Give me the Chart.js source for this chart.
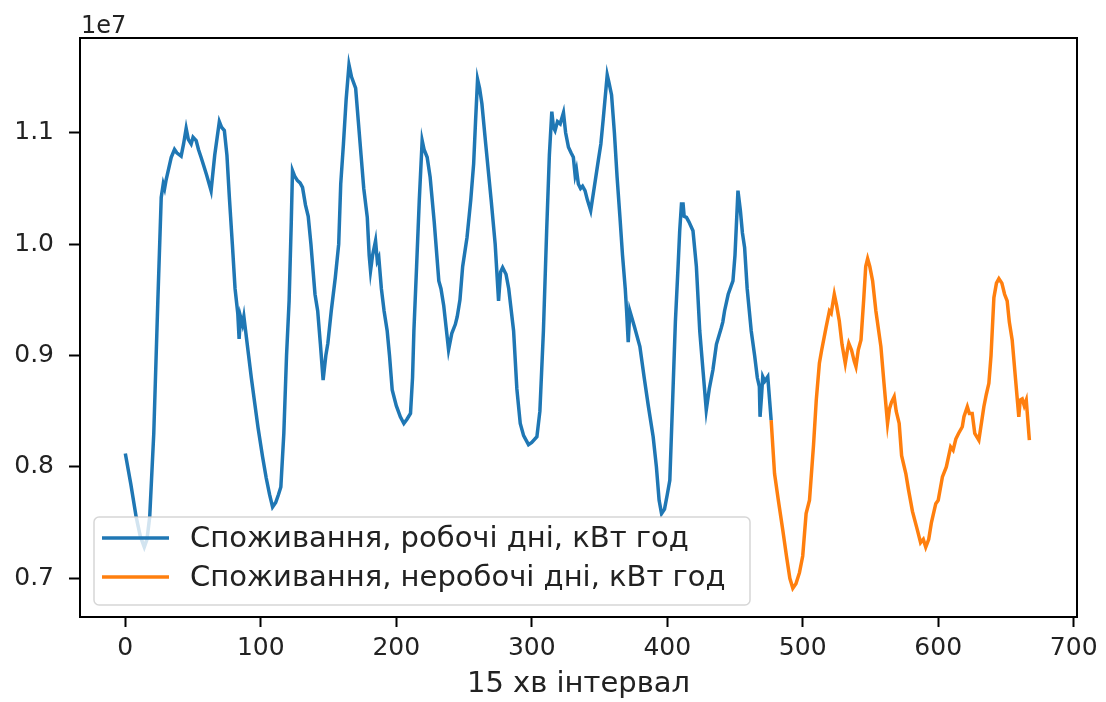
<!DOCTYPE html>
<html>
<head>
<meta charset="utf-8">
<script src="https://cdn.jsdelivr.net/npm/chart.js@4.4.0/dist/chart.umd.min.js"></script>
<style>
  body { margin: 0; background: #fff; }
  canvas { display: block; }
</style>
</head>
<body>
<canvas id="chart" width="1106" height="702"></canvas>
<script>
// values, in units of 1e7 kWh; x = index of 15 min interval
const workX = [0, 4, 8, 11, 14, 16, 18, 21, 24, 26.5, 28, 29, 30, 33.9, 36.3, 38, 41.2, 43, 44.9, 46.5,
  48.6, 50, 52.3, 54, 55.9, 58, 60, 63.3, 66, 69.4, 71, 73.1, 75, 76.8, 79, 81, 83, 84, 85, 86.5,
  87.5, 89, 91, 93, 95.2, 98, 101.3, 104, 106.5, 108.7, 111, 113, 114.8, 117, 119, 120.9, 122.5, 123.4, 125, 127.1,
  129, 130.8, 133, 135, 137, 140, 142, 144, 146, 148, 149.5, 152, 155, 157.5, 159, 161, 163, 165.1, 167, 170,
  172, 174, 176, 178.6, 180, 181, 182.5, 184.7, 186, 187.1, 189, 191, 193.3, 195, 197, 200, 203, 205.6, 208, 210.5,
  212, 213, 215, 217, 219.1, 220.5, 222.8, 225, 228, 231.4, 233, 235, 238.6, 241, 243.6, 245, 247, 249, 252.2, 255,
  257.1, 258.5, 260, 261.5, 263.2, 266, 270, 273, 275.5, 277, 278.5, 281, 283, 286.6, 289, 291.5, 294, 297.6, 300, 303.8,
  306, 308.6, 311, 313, 314.8, 316, 317.2, 319, 321, 323.4, 325, 327.1, 329, 330.7, 332, 333, 334.4, 336, 337.5, 339.3,
  341, 343.5, 346, 349.1, 351, 352.8, 355.7, 357, 358.9, 361, 363, 365.1, 367, 369, 370, 371.2, 372.4, 373.6, 376, 379.8,
  383, 386, 389.6, 392, 394, 395.8, 398, 400, 401.9, 404, 406, 408, 409.2, 410.5, 411.7, 412.5, 414.2, 416, 419, 421.5,
  424, 426.5, 428.8, 431, 433.7, 436.3, 439.9, 441, 442.3, 445, 448.5, 450, 452.2, 454, 455.5, 457.1, 459, 462, 464.5, 466.5,
  468, 468.5, 469.5, 470.5, 472, 474.2, 476.7];
const workY = [0.812, 0.785, 0.755, 0.738, 0.728, 0.735, 0.755, 0.83, 0.949, 1.042, 1.054, 1.050, 1.057, 1.078, 1.085, 1.082, 1.079, 1.090, 1.104, 1.094,
  1.090, 1.096, 1.093, 1.085, 1.078, 1.070, 1.062, 1.048, 1.080, 1.110, 1.105, 1.102, 1.080, 1.042, 1.00, 0.96, 0.938, 0.915, 0.935, 0.928,
  0.935, 0.92, 0.90, 0.88, 0.860, 0.835, 0.809, 0.79, 0.775, 0.764, 0.768, 0.775, 0.782, 0.83, 0.90, 0.949, 1.02, 1.066, 1.061, 1.057,
  1.055, 1.051, 1.035, 1.025, 1.00, 0.955, 0.94, 0.91, 0.878, 0.90, 0.911, 0.94, 0.97, 1.00, 1.054, 1.09, 1.13, 1.161, 1.15, 1.140,
  1.11, 1.08, 1.05, 1.024, 0.99, 0.976, 0.99, 1.003, 0.985, 0.988, 0.96, 0.94, 0.922, 0.90, 0.869, 0.855, 0.845, 0.839, 0.843, 0.848,
  0.88, 0.922, 0.98, 1.04, 1.093, 1.085, 1.078, 1.06, 1.02, 0.967, 0.96, 0.945, 0.905, 0.92, 0.928, 0.935, 0.95, 0.98, 1.006, 1.04,
  1.072, 1.11, 1.148, 1.14, 1.126, 1.09, 1.04, 1.00, 0.949, 0.975, 0.979, 0.973, 0.96, 0.922, 0.87, 0.839, 0.828, 0.820, 0.822, 0.827,
  0.85, 0.922, 1.012, 1.08, 1.119, 1.105, 1.102, 1.110, 1.108, 1.118, 1.10, 1.087, 1.082, 1.078, 1.062, 1.067, 1.054, 1.050, 1.052, 1.048,
  1.040, 1.030, 1.05, 1.075, 1.09, 1.113, 1.152, 1.145, 1.134, 1.10, 1.06, 1.024, 0.99, 0.96, 0.94, 0.912, 0.940, 0.935, 0.925, 0.908,
  0.88, 0.855, 0.827, 0.80, 0.77, 0.758, 0.762, 0.775, 0.788, 0.86, 0.93, 0.98, 1.012, 1.036, 1.036, 1.025, 1.024, 1.02, 1.012, 0.98,
  0.922, 0.885, 0.851, 0.87, 0.887, 0.91, 0.925, 0.93, 0.940, 0.955, 0.967, 0.99, 1.048, 1.03, 1.01, 0.997, 0.96, 0.922, 0.90, 0.88,
  0.872, 0.845, 0.862, 0.881, 0.877, 0.881, 0.842];

const offX = [476.7, 479.2, 482, 485.3, 488, 490.5, 492.7, 495, 497.6, 500, 502.5, 505, 508, 510, 512.3, 514, 517.2, 519.7, 521, 523.3,
  525, 527, 529, 531.4, 533, 534, 536, 538, 539.3, 541, 543, 545, 546.5, 547.9, 549.5, 551.6, 554, 557.7, 560, 562.6,
  564, 565.5, 567.5, 569, 571.2, 573, 576.1, 578, 581, 584.7, 587, 589, 590.8, 593, 595, 598.2, 600, 603.1, 606, 609.2,
  611, 613, 615, 617.8, 619, 621.5, 623, 625.1, 627, 630, 632, 633.7, 635.5, 637.4, 639, 641.1, 643, 644.8, 647, 649,
  650.9, 652.5, 654.6, 657, 659.5, 660.5, 662, 663.5, 665, 667.3];
const offY = [0.842, 0.794, 0.77, 0.743, 0.72, 0.70, 0.691, 0.695, 0.705, 0.72, 0.758, 0.77, 0.82, 0.86, 0.893, 0.905, 0.925, 0.940, 0.938, 0.955,
  0.945, 0.931, 0.91, 0.893, 0.905, 0.911, 0.905, 0.895, 0.890, 0.905, 0.914, 0.95, 0.98, 0.987, 0.98, 0.967, 0.94, 0.908, 0.875, 0.839,
  0.852, 0.858, 0.863, 0.85, 0.839, 0.81, 0.794, 0.78, 0.76, 0.743, 0.732, 0.735, 0.728, 0.735, 0.75, 0.767, 0.77, 0.791, 0.80, 0.818,
  0.815, 0.825, 0.83, 0.836, 0.845, 0.854, 0.848, 0.848, 0.83, 0.824, 0.84, 0.854, 0.865, 0.875, 0.90, 0.952, 0.965, 0.969, 0.965, 0.955,
  0.949, 0.93, 0.914, 0.88, 0.845, 0.86, 0.861, 0.855, 0.86, 0.824];

const xTicks = [0, 100, 200, 300, 400, 500, 600, 700];
const yTicks = [0.7, 0.8, 0.9, 1.0, 1.1];
const labels = ['Споживання, робочі дні, кВт год', 'Споживання, неробочі дні, кВт год'];
const colors = ['#1f77b4', '#ff7f0e'];
const SCALE = 1e7;

const FONT = 'DejaVu Sans';
const TXT = '#222';

function points(xs, ys) {
  return xs.map((x, i) => ({ x: x, y: ys[i] * SCALE }));
}

const extras = {
  id: 'extras',
  afterDatasetsDraw(chart) {
    const ctx = chart.ctx;
    const a = chart.chartArea;
    // legend box, lower left inside the axes
    const bx = a.left + 14, by = a.bottom - 100, bw = 656, bh = 88;
    ctx.save();
    ctx.fillStyle = 'rgba(255,255,255,0.8)';
    ctx.strokeStyle = 'rgba(204,204,204,0.8)';
    ctx.lineWidth = 1.5;
    ctx.beginPath();
    ctx.roundRect(bx, by, bw, bh, 5);
    ctx.fill();
    ctx.stroke();
    ctx.font = '29px "' + FONT + '"';
    ctx.textBaseline = 'middle';
    ctx.lineWidth = 3.5;
    labels.forEach((t, i) => {
      const ly = by + 21 + i * 39;
      ctx.strokeStyle = colors[i];
      ctx.beginPath();
      ctx.moveTo(bx + 8, ly);
      ctx.lineTo(bx + 75, ly);
      ctx.stroke();
      ctx.fillStyle = TXT;
      ctx.fillText(t, bx + 96, ly + 1);
    });
    ctx.restore();
  },
  afterDraw(chart) {
    const ctx = chart.ctx;
    const a = chart.chartArea;
    ctx.save();
    ctx.strokeStyle = '#000';
    ctx.lineWidth = 2;
    ctx.strokeRect(a.left, a.top, a.right - a.left, a.bottom - a.top);
    ctx.fillStyle = TXT;
    ctx.font = '24px "' + FONT + '"';
    ctx.textBaseline = 'alphabetic';
    ctx.fillText('1e7', a.left + 1, a.top - 5);
    ctx.restore();
  }
};

new Chart(document.getElementById('chart'), {
  type: 'line',
  data: {
    datasets: [
      { label: labels[0], data: points(workX, workY), borderColor: colors[0], backgroundColor: colors[0], borderWidth: 3.5, pointRadius: 0 },
      { label: labels[1], data: points(offX, offY), borderColor: colors[1], backgroundColor: colors[1], borderWidth: 3.5, pointRadius: 0 }
    ]
  },
  options: {
    responsive: false,
    animation: false,
    layout: { padding: { top: 38, right: 29, left: 0, bottom: 0 } },
    elements: { line: { tension: 0 } },
    plugins: {
      legend: { display: false },
      tooltip: { enabled: false }
    },
    scales: {
      x: {
        type: 'linear',
        min: -33.45,
        max: 702.45,
        afterBuildTicks: s => { s.ticks = xTicks.map(v => ({ value: v })); },
        afterFit: s => { s.height = 85; },
        ticks: { color: TXT, font: { family: FONT, size: 25 }, padding: 6, maxRotation: 0, callback: v => String(v) },
        grid: { drawOnChartArea: false, drawTicks: true, tickLength: 10, tickWidth: 2, color: '#000' },
        border: { display: false },
        title: { display: true, text: '15 хв інтервал', color: TXT, font: { family: FONT, size: 29 }, padding: { top: 0, bottom: 0 } }
      },
      y: {
        type: 'linear',
        min: 0.6652 * SCALE,
        max: 1.1851 * SCALE,
        afterBuildTicks: s => { s.ticks = yTicks.map(v => ({ value: v * SCALE })); },
        afterFit: s => { s.width = 80; },
        ticks: { color: TXT, font: { family: FONT, size: 25 }, padding: 15, callback: v => (v / SCALE).toFixed(1) },
        grid: { drawOnChartArea: false, drawTicks: true, tickLength: 11, tickWidth: 2, color: '#000' },
        border: { display: false }
      }
    }
  },
  plugins: [extras]
});
</script>
</body>
</html>
